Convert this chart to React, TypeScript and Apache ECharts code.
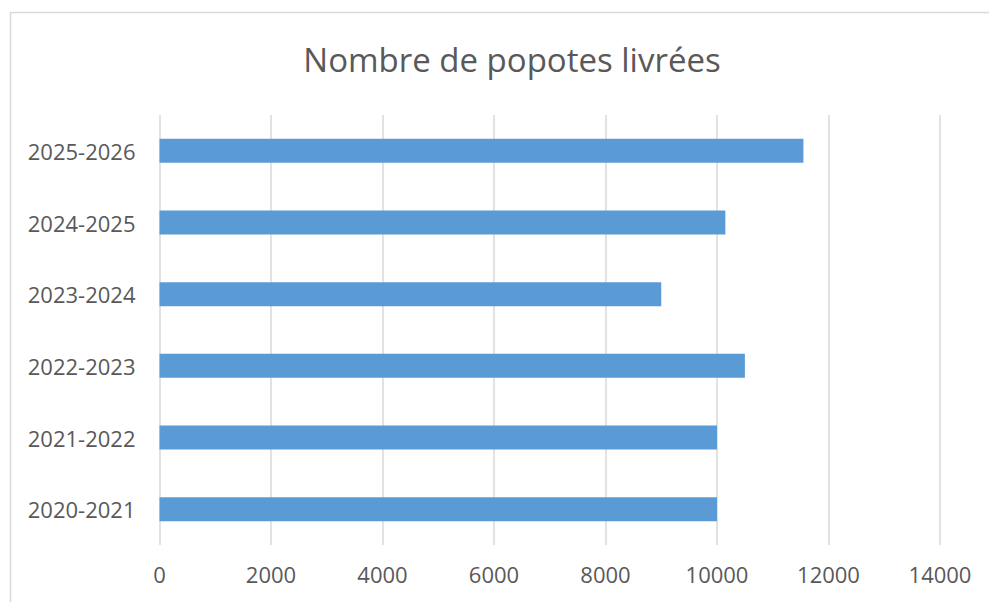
import React, { useEffect, useRef } from "react";
import * as echarts from "echarts";

const categories = ["2020-2021", "2021-2022", "2022-2023", "2023-2024", "2024-2025", "2025-2026"];
const values = [10000, 10000, 10500, 9000, 10150, 11550];
const axisMax = 14000;
const axisInterval = 2000;
const title = "Nombre de popotes livrées";

export default function App() {
  const ref = useRef<HTMLDivElement>(null);
  useEffect(() => {
    if (!ref.current) return;
    const chart = echarts.init(ref.current, null, { renderer: "svg" });
    const font = "'Open Sans', sans-serif";
    chart.setOption({
      animation: false,
      backgroundColor: "#ffffff",
      graphic: [
        {
          type: "rect",
          shape: { x: 10.5, y: 12.5, width: 1200, height: 800 },
          style: { fill: "none", stroke: "#D9D9D9", lineWidth: 1.5 },
          silent: true,
        },
      ],
      title: {
        text: title,
        left: 507,
        textAlign: "center",
        top: 38,
        textStyle: { fontFamily: font, fontSize: 33, fontWeight: "normal", color: "#595959" },
      },
      grid: { left: 159.5, right: 49, top: 115, bottom: 57, containLabel: false },
      xAxis: {
        type: "value",
        min: 0,
        max: axisMax,
        interval: axisInterval,
        axisLine: { show: false },
        axisTick: { show: false },
        splitLine: { show: true, lineStyle: { color: "#D9D9D9", width: 1.5 } },
        axisLabel: {
          fontFamily: font,
          fontSize: 22,
          color: "#595959",
          margin: 18,
          formatter: (v: number) => String(v),
        },
      },
      yAxis: {
        type: "category",
        data: categories,
        axisLine: { show: false },
        axisTick: { show: false },
        splitLine: { show: false },
        axisLabel: { fontFamily: font, fontSize: 22, color: "#595959", margin: 24 },
      },
      series: [
        {
          type: "bar",
          data: values,
          barWidth: 24,
          itemStyle: { color: "#5B9BD5" },
          silent: true,
        },
      ],
    });
    return () => chart.dispose();
  }, []);
  return <div ref={ref} style={{ position: "fixed", left: 0, top: 0, width: 989, height: 602 }} />;
}
